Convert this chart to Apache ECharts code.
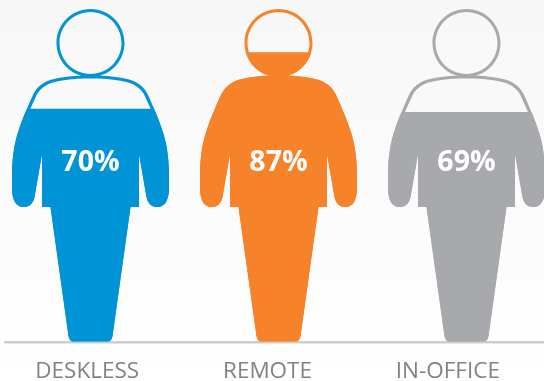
<!DOCTYPE html>
<html>
<head>
<meta charset="utf-8">
<style>html,body{margin:0;padding:0;background:#fff}#chart{width:544px;height:381px}</style>
<script src="https://cdn.jsdelivr.net/npm/echarts@6/dist/echarts.min.js"></script>
</head>
<body>
<div id="chart"></div>
<script>
// Share of each worker group, drawn as a filled person silhouette
const categories = ['DESKLESS', 'REMOTE', 'IN-OFFICE'];
const shares = [70, 87, 69];
const colors = ['#0093d6', '#f6822a', '#a7a9ac'];

// Outer contour of the head and the body, both wound clockwise
const headOuter = 'M90 9C108.78 9 124 24.22 124 43C124 61.78 108.78 77 90 77C71.22 77 56 61.78 56 43C56 24.22 71.22 9 90 9Z';
const bodyOuter = 'M90 75.5C108 75.5 125 77.5 133 81C140 84 145 89 148 96C152 105 158 118 163 134C167 147 168.5 161 168.5 178' +
  'L168.5 188C168.5 199 165 207 157 207C150 207 147 202 146 197L138.5 154L138.5 207L130 207L112 336' +
  'C111.5 339.5 110 341.5 107 341.5L73 341.5C70 341.5 68.5 339.5 68 336L50 207L41.5 207L41.5 154L34 197' +
  'C33 202 30 207 23 207C15 207 11.5 199 11.5 188L11.5 178C11.5 161 13 147 17 134C22 118 28 105 32 96' +
  'C35 89 40 84 47 81C55 77.5 72 75.5 90 75.5Z';
// Inner contours wound the other way, which leaves a thin ring around the figure
const headInner = 'M90 12C72.88 12 59 25.88 59 43C59 60.12 72.88 74 90 74C107.12 74 121 60.12 121 43C121 25.88 107.12 12 90 12Z';
const bodyInner = 'M90 78.5C72 78.5 56 80.5 48 84C42 87 37.5 91 35 97.5C31 106 25 119 20 135C16 147.5 14.5 161 14.5 178' +
  'L14.5 188C14.5 197 17 204 23 204C28 204 30.5 200 31 196.5L38.5 152L44.5 152L44.5 204L53 204L71 335' +
  'C71.3 337 72 338.5 74 338.5L106 338.5C108 338.5 108.7 337 109 335L127 204L135.5 204L135.5 152L141.5 152L149 196.5' +
  'C149.5 200 152 204 157 204C163 204 165.5 197 165.5 188L165.5 178C165.5 161 164 147.5 160 135' +
  'C155 119 149 106 145 97.5C142.5 91 138 87 132 84C124 80.5 108 78.5 90 78.5Z';

const solidPerson = 'path://' + headOuter + bodyOuter;
const outlinePerson = 'path://' + headOuter + headInner + bodyOuter + bodyInner;
const figureWidth = 157;

const chart = echarts.init(document.getElementById('chart'));
chart.setOption({
  animation: false,
  backgroundColor: {
    type: 'linear', x: 0, y: 0, x2: 0, y2: 1,
    colorStops: [{ offset: 0, color: '#f7f7f7' }, { offset: 1, color: '#ffffff' }]
  },
  grid: [
    { left: -3.5, width: 564, top: 9, height: 332.5, outerBoundsMode: 'none' },
    // Caption row sits on its own slightly narrower bands
    { left: -3, width: 541, top: 10, height: 331, outerBoundsMode: 'none' }
  ],
  xAxis: [
    { type: 'category', gridIndex: 0, data: categories, show: false },
    {
      type: 'category', gridIndex: 1, data: categories,
      axisLine: { show: false },
      axisTick: { show: false },
      axisLabel: {
        interval: 0, margin: 20, color: '#808285', fontSize: 22.5,
        fontFamily: 'Open Sans', lineHeight: 22
      }
    }
  ],
  yAxis: [
    { type: 'value', gridIndex: 0, min: 0, max: 100, show: false },
    { type: 'value', gridIndex: 1, min: 0, max: 100, show: false }
  ],
  graphic: [{
    type: 'rect', silent: true,
    shape: { x: 4, y: 341, width: 540, height: 2.5 },
    style: { fill: '#cdcdcd' }
  }],
  series: [
    {
      // Level of the fill, clipped to the share of the full figure
      type: 'pictorialBar', z: 2,
      symbol: solidPerson, symbolSize: [figureWidth, '100%'],
      symbolPosition: 'start', symbolClip: true, symbolBoundingData: 100,
      data: shares.map((v, i) => ({ value: v, itemStyle: { color: colors[i] } }))
    },
    {
      // Empty outline of the whole figure, carrying the percentage label
      type: 'pictorialBar', z: 3,
      symbol: outlinePerson, symbolSize: [figureWidth, '100%'],
      symbolPosition: 'start', symbolBoundingData: 100,
      label: {
        show: true, position: 'inside', offset: [0, -12],
        formatter: p => shares[p.dataIndex] + '%',
        color: '#fff', fontSize: 28.5, fontWeight: 'bold', fontFamily: 'Open Sans'
      },
      data: shares.map((v, i) => ({ value: 100, itemStyle: { color: colors[i] } }))
    }
  ]
});
</script>
</body>
</html>
